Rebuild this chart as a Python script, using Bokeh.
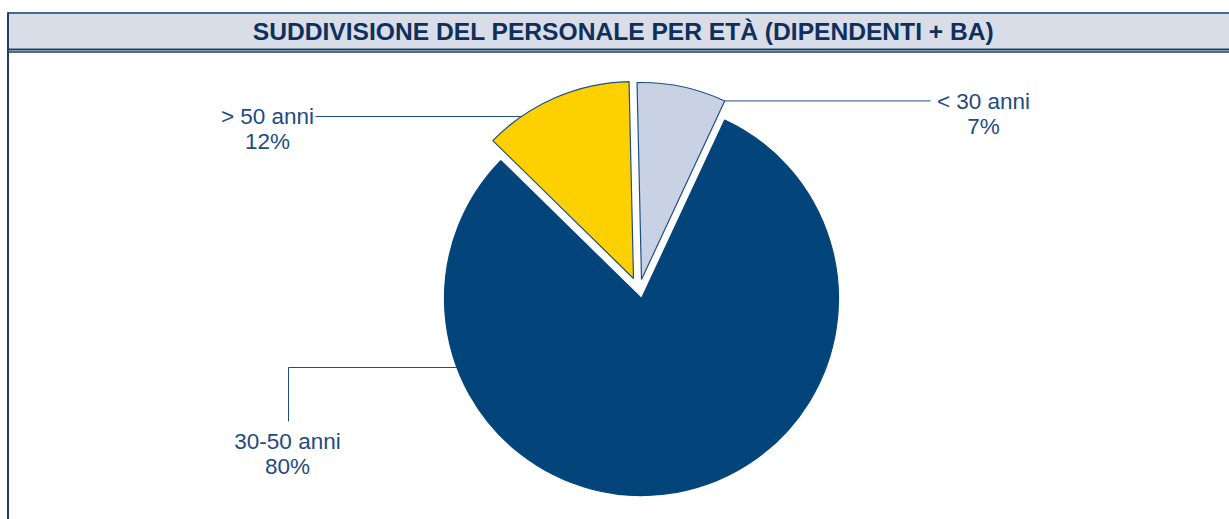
import math
from bokeh.plotting import figure
from bokeh.models import ColumnDataSource, Range1d
from bokeh.core.properties import value
from bokeh.embed import file_html
from bokeh.resources import INLINE

# ---- data ----
title_text = "SUDDIVISIONE DEL PERSONALE PER ETÀ (DIPENDENTI + BA)"
categories = ["< 30 anni", "30-50 anni", "> 50 anni"]
values = [7.3, 80.4, 12.3]
pct_labels = ["7%", "80%", "12%"]

# ---- style ----
colors = ["#C9D1E4", "#03457A", "#FDD100"]
outline = ["#1F4E85", "#03457A", "#1F4E85"]
explode_dx = [0.0, 0.0, -8.0]
explode_dy = [19.0, 0.0, 20.0]
TEXT_COL = "#1E4B82"
FONT = value("Liberation Sans")

W, H = 1229, 519
p = figure(width=W, height=H, output_backend="svg", toolbar_location=None,
           x_range=Range1d(0, W), y_range=Range1d(0, H),
           min_border=0, min_border_left=0, min_border_right=0,
           min_border_top=0, min_border_bottom=0)
p.axis.visible = False
p.grid.visible = False
p.outline_line_color = None
p.background_fill_color = "white"

# ---- frame / title bar ----
p.quad(left=[8], right=[W], top=[506], bottom=[471], fill_color="#D9DDE8", line_color=None)
p.segment(x0=[7], y0=[506.5], x1=[W], y1=[506.5], line_color="#46698F", line_width=2)
p.segment(x0=[7], y0=[470], x1=[W], y1=[470], line_color="#173A66", line_width=2)
p.segment(x0=[7], y0=[467.6], x1=[W], y1=[467.6], line_color="#173A66", line_width=1.5)
p.segment(x0=[7.5], y0=[0], x1=[7.5], y1=[507], line_color="#1F3D66", line_width=2)
p.text(x=[623], y=[488.5], text=[title_text], text_font=FONT, text_font_style="bold",
       text_font_size="24.6px", text_color="#0F2F5C", text_align="center", text_baseline="middle")

# ---- pie ----
cx, cy, R = 641.0, 221.0, 197.0
start = 91.3  # degrees, slices proceed clockwise
total = sum(values)
starts, ends, xs, ys = [], [], [], []
acc = 0.0
for v, dx, dy in zip(values, explode_dx, explode_dy):
    a_hi = start - acc / total * 360.0
    a_lo = a_hi - v / total * 360.0
    acc += v
    xs.append(cx + dx)
    ys.append(cy + dy)
    starts.append(math.radians(a_lo))
    ends.append(math.radians(a_hi))

src = ColumnDataSource(dict(x=xs, y=ys, start=starts, end=ends, color=colors,
                            line=outline, cat=categories))
p.wedge(x="x", y="y", radius=R, start_angle="start", end_angle="end",
        fill_color="color", line_color="line", line_width=1.2, source=src)

# ---- labels and leaders ----
LINE = "#1F4E85"
lab_x, lab_y = 983, 418      # < 30 anni
lab2_x, lab2_y = 267, 403    # > 50 anni
lab3_x, lab3_y = 287, 78     # 30-50 anni

# < 30 anni: leader from outer corner of slice at its low angle
i = 0
ax = xs[i] + R * math.cos(starts[i]); ay = ys[i] + R * math.sin(starts[i])
p.segment(x0=[ax], y0=[ay], x1=[lab_x - 53], y1=[ay], line_color=LINE, line_width=1)
# > 50 anni: horizontal leader to slice arc
i = 2
dy = lab2_y - ys[i]
bx = xs[i] - math.sqrt(R * R - dy * dy)
p.segment(x0=[lab2_x + 48], y0=[lab2_y], x1=[bx], y1=[lab2_y], line_color=LINE, line_width=1)
# 30-50 anni: elbow leader
i = 1
ly = 152
dy = ly - ys[i]
bx3 = xs[i] - math.sqrt(R * R - dy * dy)
p.segment(x0=[lab3_x + 1, lab3_x + 1], y0=[lab3_y + 20, ly], x1=[lab3_x + 1, bx3], y1=[ly, ly],
          line_color=LINE, line_width=1)

lx = [lab_x, lab3_x, lab2_x]
ly_ = [lab_y, lab3_y, lab2_y]
p.text(x=lx, y=ly_, text=categories, text_font=FONT, text_font_size="22.5px",
       text_color=TEXT_COL, text_align="center", text_baseline="middle")
p.text(x=lx, y=[v - 25 for v in ly_], text=pct_labels, text_font=FONT, text_font_size="22.5px",
       text_color=TEXT_COL, text_align="center", text_baseline="middle")

open("out.html", "w").write(file_html(p, INLINE))
